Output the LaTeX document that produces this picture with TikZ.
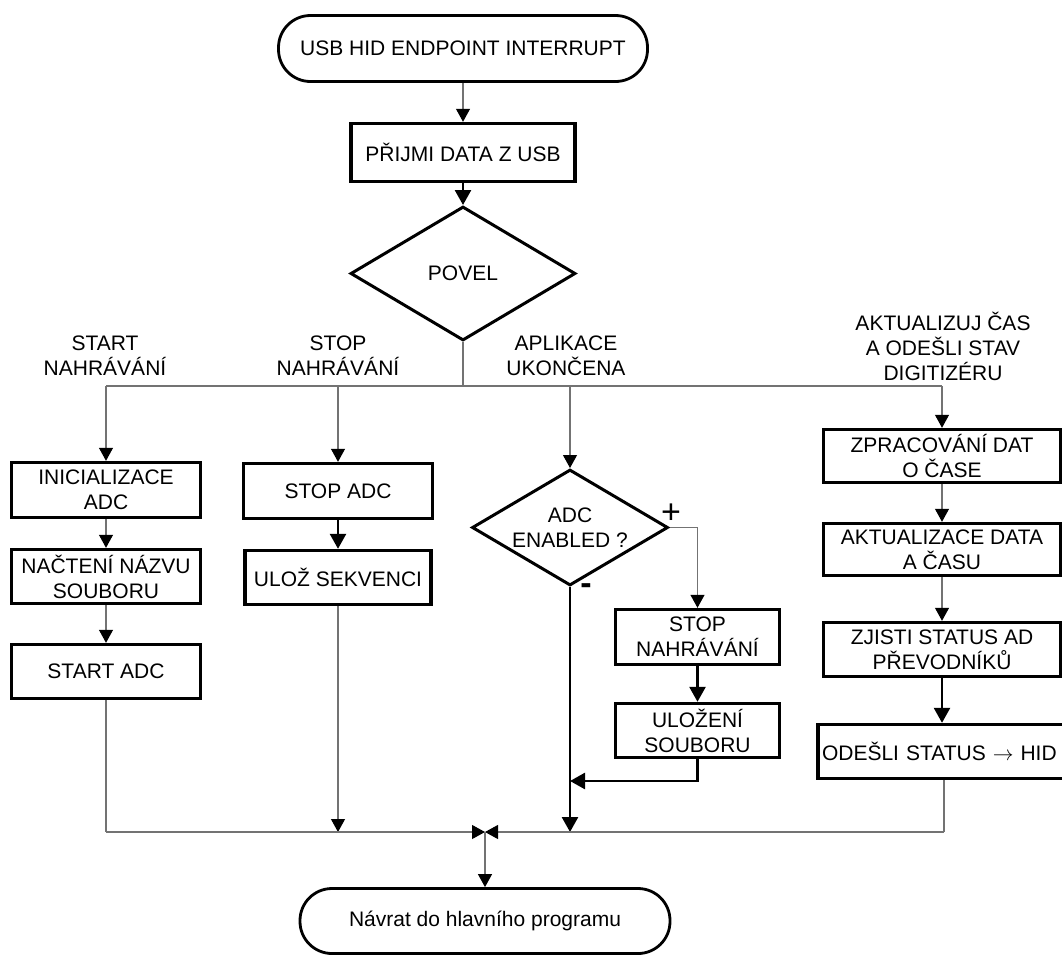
\documentclass[tikz,border=0pt]{standalone}
\usepackage{fontspec}
\setmainfont{Liberation Sans}
\usetikzlibrary{arrows.meta,shapes.geometric}
\tikzset{
  txt/.style={font=\fontsize{21}{25}\selectfont, align=center},
  proc/.style={txt, draw=black, line width=3.4pt, rectangle, inner sep=0pt},
  term/.style={txt, draw=black, line width=2.8pt, rectangle, rounded corners=32pt, inner sep=0pt},
  dec/.style={txt, draw=black, line width=3pt, diamond, aspect=1.66, inner sep=0pt},
  thinln/.style={draw=black!55, line width=1.1pt},
  thickln/.style={draw=black, line width=2.6pt},
  tarr/.style={thinln, -{Triangle[length=13pt,width=14pt,color=black]}},
  karr/.style={thickln, -{Triangle[length=15pt,width=16pt]}},
  lab/.style={txt, inner sep=0pt},
  sign/.style={font=\fontsize{34}{34}\selectfont, inner sep=0pt},
}
\begin{document}
\begin{tikzpicture}[x=1pt,y=-1pt]
\useasboundingbox (0,0) rectangle (1062,956);
% top
\node[term, minimum width=369pt, minimum height=66pt] (t1) at (463,48.5) {USB HID ENDPOINT INTERRUPT};
\node[proc, minimum width=224pt, minimum height=58pt] (p1) at (463,152.5) {PŘIJMI DATA Z USB};
\node[dec, minimum width=225pt, minimum height=134pt] (d1) at (463,273.5) {POVEL};
% branch labels
\node[lab] (l1) at (105,355.5) {START\\NAHRÁVÁNÍ};
\node[lab] (l2) at (338,355.5) {STOP\\NAHRÁVÁNÍ};
\node[lab] (l3) at (566,355.5) {APLIKACE\\UKONČENA};
\node[lab] (l4) at (943,346) {AKTUALIZUJ ČAS\\A ODEŠLI STAV\\DIGITIZÉRU};
% column 1
\node[proc, minimum width=189pt, minimum height=55pt] (a1) at (106,490) {INICIALIZACE\\ADC};
\node[proc, minimum width=189pt, minimum height=54pt] (a2) at (106,576.5) {NAČTENÍ NÁZVU\\SOUBORU};
\node[proc, minimum width=189pt, minimum height=54pt] (a3) at (106,671.5) {START ADC};
% column 2
\node[proc, minimum width=189pt, minimum height=55pt] (b1) at (338,491) {STOP ADC};
\node[proc, minimum width=186pt, minimum height=54pt] (b2) at (338,577.5) {ULOŽ SEKVENCI};
% column 3
\node[dec, minimum width=196pt, minimum height=116pt] (c0) at (570,527.5) {ADC\\ENABLED ?};
\node[proc, minimum width=164pt, minimum height=55pt] (c1) at (697.5,637) {STOP\\NAHRÁVÁNÍ};
\node[proc, minimum width=164pt, minimum height=54pt] (c2) at (697.5,730.5) {ULOŽENÍ\\SOUBORU};
\node[sign] (plus) at (671,514) {+};
\node[sign] (minus) at (586,589) {\textbf{-}};
% column 4
\node[proc, minimum width=237pt, minimum height=53pt] (e1) at (942,456) {ZPRACOVÁNÍ DAT\\O ČASE};
\node[proc, minimum width=237pt, minimum height=52pt] (e2) at (942,549.5) {AKTUALIZACE DATA\\A ČASU};
\node[proc, minimum width=237pt, minimum height=54pt] (e3) at (942,649.5) {ZJISTI STATUS AD\\PŘEVODNÍKŮ};
\node[proc, minimum width=257pt, minimum height=54pt, text width=249pt, align=left] (e4) at (946.5,751.5) {ODEŠLI STATUS $\rightarrow$ HID};
% end
\node[term, minimum width=370pt, minimum height=65pt] (t2) at (485,921) {Návrat do hlavního programu};
% coordinates
\coordinate (s) at (463,386);
\coordinate (h1) at (106,386);
\coordinate (h4) at (942,386);
\coordinate (m) at (485,832);
\coordinate (g1) at (106,832);
\coordinate (g4) at (944,832);
\coordinate (r) at (570,781);
% connectors
\draw[tarr] (t1.south) -- (p1.north);
\draw[karr] (p1.south) -- (d1.north);
\draw[thinln] (d1.south) -- (s);
\draw[thinln] (h1) -- (h4);
\draw[tarr] (h1) -- (a1.north);
\draw[tarr] (h1 -| b1.north) -- (b1.north);
\draw[tarr] (h1 -| c0.north) -- (c0.north);
\draw[tarr] (h4) -- (e1.north);
\draw[tarr] (a1.south) -- (a2.north);
\draw[tarr] (a2.south) -- (a3.north);
\draw[thinln] (a3.south) -- (g1);
\draw[karr] (b1.south) -- (b2.north);
\draw[tarr] (b2.south) -- (b2.south |- m);
\draw[tarr] (c0.east) -| (c1.north);
\draw[karr] (c1.south) -- (c2.north);
\draw[karr] (c2.south) |- (r);
\draw[karr] (c0.south) -- (c0.south |- m);
\draw[tarr] (e1.south) -- (e2.north);
\draw[tarr] (e2.south) -- (e3.north);
\draw[karr] (e3.south) -- (e3.south |- e4.north);
\draw[thinln] (g4 |- e4.south) -- (g4);
\draw[tarr] (g1) -- (m);
\draw[tarr] (g4) -- (m);
\draw[tarr] (m) -- (t2.north);
\end{tikzpicture}
\end{document}
